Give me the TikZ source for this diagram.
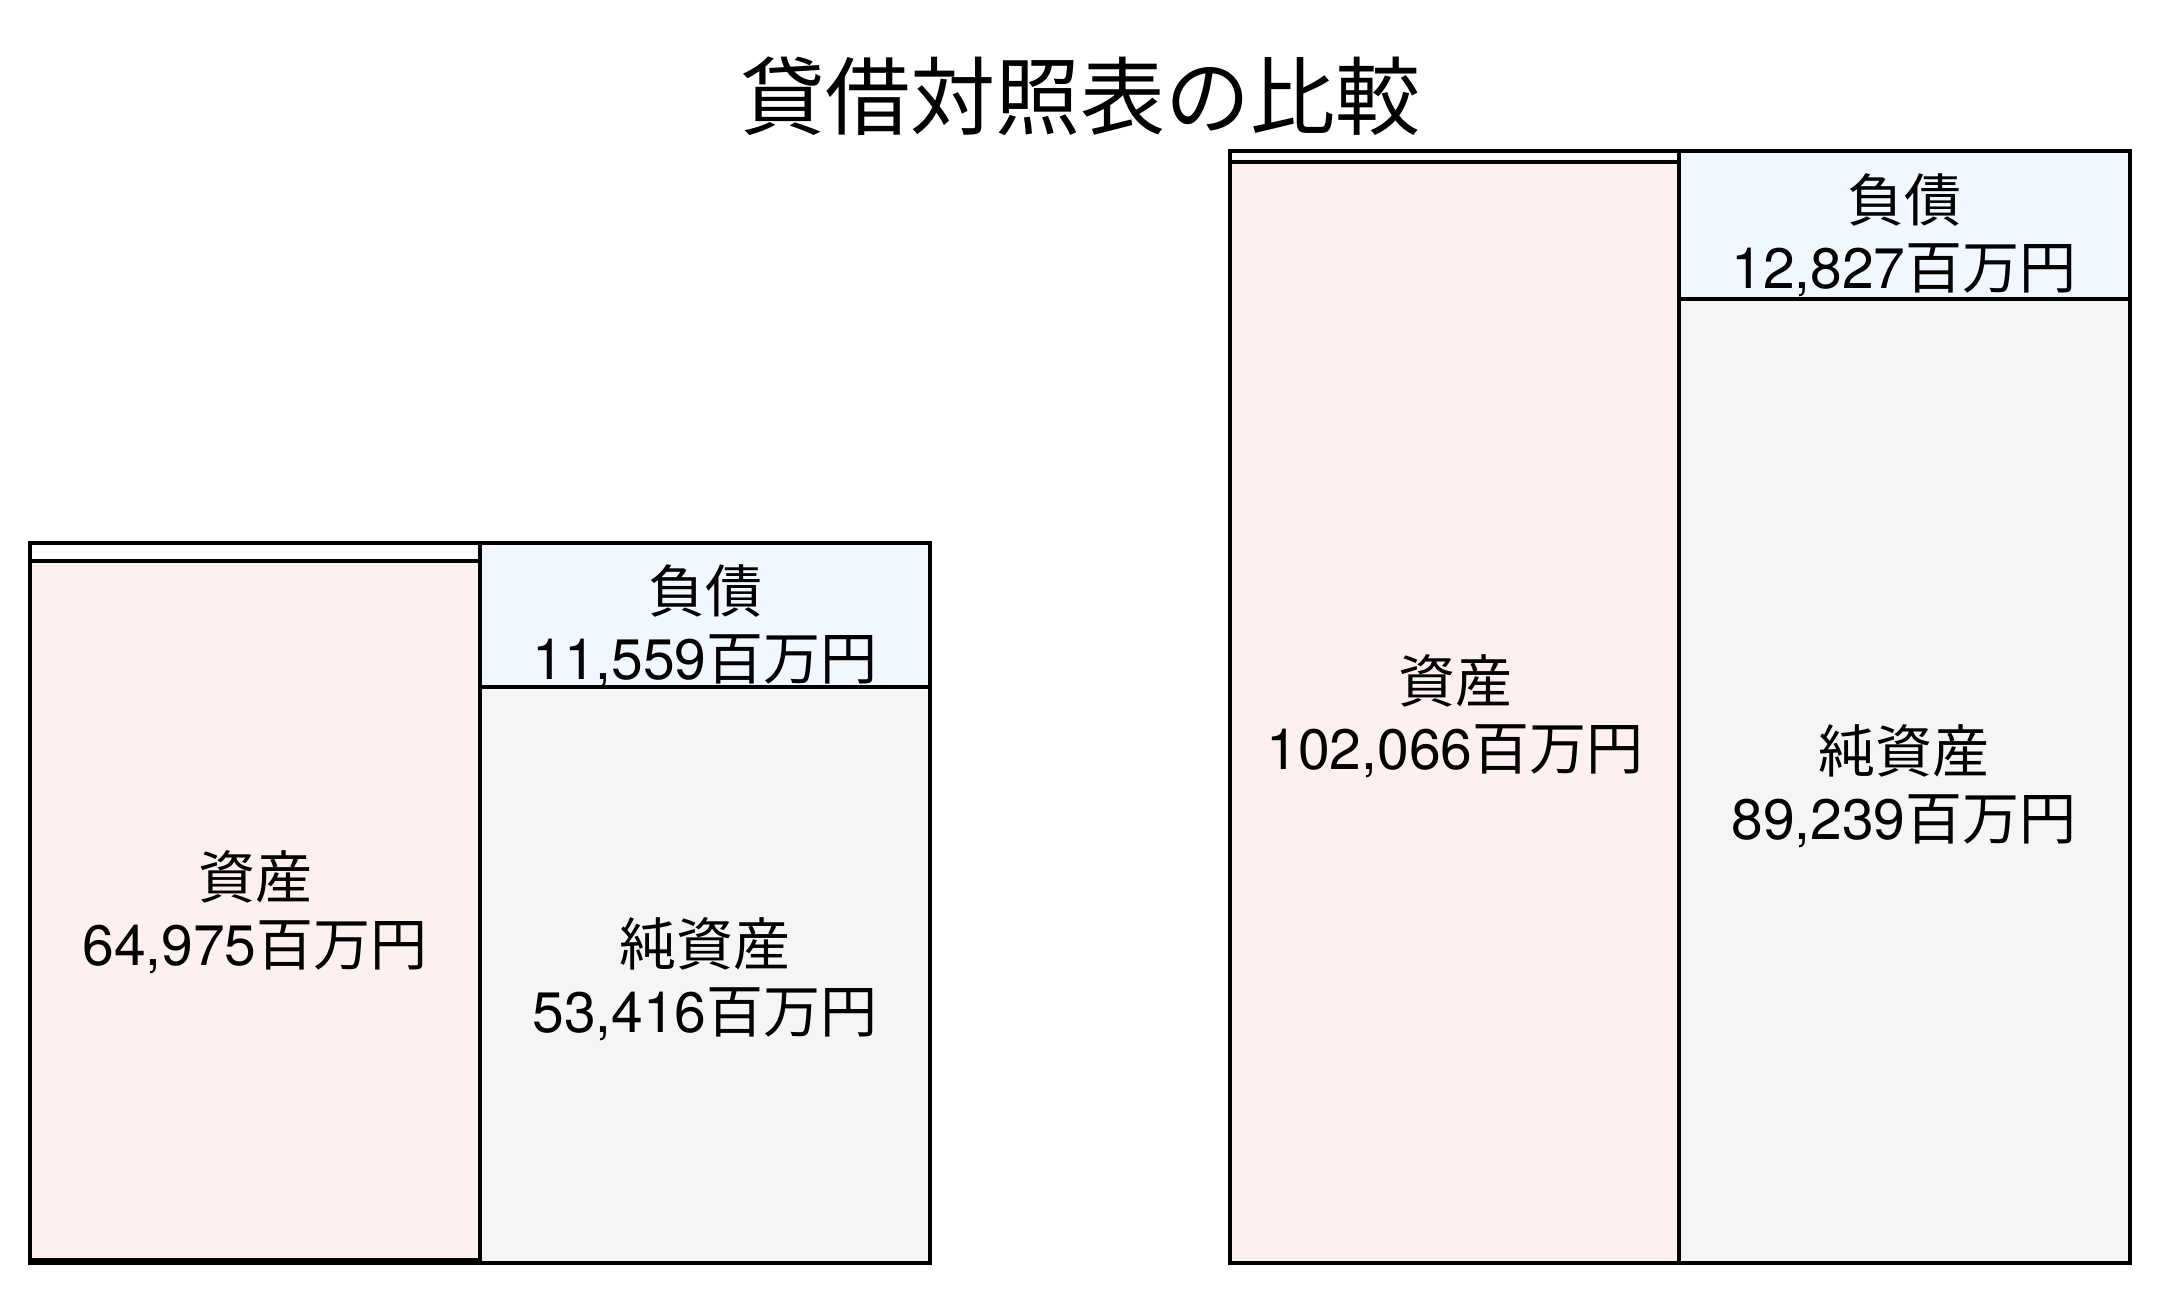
\documentclass[tikz,border=0pt]{standalone}
\usepackage{fontspec}
\setmainfont{TeX Gyre Heros}
\newfontfamily\jp{Noto Sans CJK JP}
\definecolor{assetfill}{RGB}{254,240,240}
\definecolor{liabfill}{RGB}{240,247,254}
\definecolor{netfill}{RGB}{245,245,245}
\begin{document}
\begin{tikzpicture}[x=1pt,y=-1pt,
  frame/.style={draw=black,line width=4pt},
  lbl/.style={align=center,font=\fontsize{57}{67}\selectfont,inner sep=0pt},
  ttl/.style={font=\fontsize{85}{100}\selectfont\jp,inner sep=0pt}]
\useasboundingbox (0,0) rectangle (2160,1293);
\fill[white] (0,0) rectangle (2160,1293);
% title
\node[ttl] (title) at (1080,96) {貸借対照表の比較};
% left chart
\draw[frame,fill=white] (30,543) rectangle (930,1263);
\draw[frame,fill=assetfill] (30,561) rectangle (480,1260);
\draw[frame,fill=liabfill] (480,543) rectangle (930,687);
\draw[frame,fill=netfill] (480,687) rectangle (930,1263);
\node[lbl] (la) at (255,912) {{\jp 資産}\\64,975{\jp 百万円}};
\node[lbl] (ll) at (705,626) {{\jp 負債}\\11,559{\jp 百万円}};
\node[lbl] (ln) at (705,979) {{\jp 純資産}\\53,416{\jp 百万円}};
% right chart
\draw[frame,fill=white] (1230,151) rectangle (2130,1263);
\draw[frame,fill=assetfill] (1230,162) rectangle (1679,1263);
\draw[frame,fill=liabfill] (1679,151) rectangle (2130,299);
\draw[frame,fill=netfill] (1679,299) rectangle (2130,1263);
\node[lbl] (ra) at (1455,716) {{\jp 資産}\\102,066{\jp 百万円}};
\node[lbl] (rl) at (1904,235) {{\jp 負債}\\12,827{\jp 百万円}};
\node[lbl] (rn) at (1904,786) {{\jp 純資産}\\89,239{\jp 百万円}};
\end{tikzpicture}
\end{document}
